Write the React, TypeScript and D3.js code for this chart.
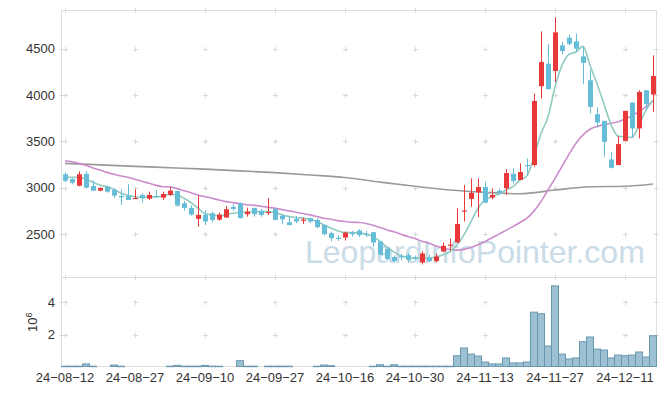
import React from 'react';
import * as d3 from 'd3';

// daily candles, 24-08-12 .. 24-12-17
const openP = [
  3144, 3093, 3021, 3150, 3018, 2968, 3011, 2975, 2911, 2911,
  2880, 2922, 2882, 2911, 2893, 2922, 2965, 2832, 2782, 2664,
  2707, 2725, 2656, 2678, 2793, 2832, 2714, 2782, 2750, 2730,
  2771, 2696, 2628, 2664, 2648, 2671, 2653, 2599, 2510, 2460,
  2463, 2516, 2538, 2504, 2520, 2420, 2341, 2252, 2262, 2273,
  2248, 2194, 2244, 2209, 2312, 2376, 2409, 2746, 2879, 2950,
  3007, 2893, 2968, 2993, 3150, 3083, 3245, 3244, 4094, 4337,
  4258, 4534, 4617, 4577, 4416, 4158, 3792, 3720, 3305, 3244,
  3505, 3918, 3639, 4050, 4004,
];
const highP = [
  3166, 3101, 3176, 3180, 3080, 3005, 3021, 2993, 2983, 3037,
  2983, 2940, 2957, 2975, 2957, 3011, 2965, 2857, 2811, 2918,
  2760, 2742, 2731, 2803, 2828, 2840, 2785, 2785, 2771, 2889,
  2782, 2717, 2689, 2696, 2678, 2678, 2671, 2599, 2527, 2488,
  2527, 2534, 2553, 2534, 2520, 2427, 2359, 2266, 2284, 2295,
  2270, 2316, 2277, 2291, 2409, 2452, 2779, 3029, 3101, 3101,
  3065, 2993, 2990, 3201, 3208, 3262, 3316, 4015, 4684, 4552,
  4838, 4570, 4652, 4660, 4523, 4273, 3864, 3720, 3387, 3556,
  3828, 3918, 4050, 4050, 4427,
];
const lowP = [
  3058, 3037, 3015, 2990, 2965, 2960, 2946, 2889, 2814, 2868,
  2879, 2843, 2868, 2896, 2868, 2911, 2796, 2753, 2699, 2581,
  2599, 2624, 2645, 2675, 2753, 2671, 2688, 2688, 2688, 2707,
  2653, 2607, 2596, 2617, 2607, 2617, 2563, 2488, 2420, 2427,
  2430, 2473, 2467, 2467, 2366, 2277, 2223, 2194, 2216, 2194,
  2220, 2172, 2198, 2194, 2305, 2323, 2402, 2635, 2796, 2683,
  2832, 2875, 2920, 2922, 3047, 3083, 3137, 3226, 3961, 4061,
  4140, 4437, 4534, 4462, 4115, 3800, 3649, 3333, 3208, 3244,
  3505, 3538, 3531, 3835, 3817,
];
const closeP = [
  3075, 3054, 3144, 3000, 2968, 2997, 2957, 2914, 2896, 2868,
  2890, 2886, 2922, 2896, 2932, 2968, 2807, 2782, 2710, 2707,
  2635, 2653, 2710, 2768, 2771, 2671, 2742, 2714, 2707, 2738,
  2653, 2660, 2596, 2635, 2656, 2635, 2574, 2499, 2456, 2452,
  2516, 2499, 2490, 2496, 2409, 2277, 2233, 2209, 2252, 2223,
  2240, 2291, 2209, 2258, 2373, 2387, 2609, 2754, 2946, 3007,
  2839, 2922, 2945, 3158, 3072, 3169, 3237, 3935, 4354, 4061,
  4674, 4473, 4552, 4498, 4344, 3871, 3703, 3495, 3215, 3470,
  3828, 3639, 4032, 3900, 4204,
];

// volume, millions of shares
const volume = [
  0.05, 0.05, 0.05, 0.19, 0.05, 0, 0, 0.12, 0.05, 0,
  0, 0, 0, 0, 0, 0.05, 0.1, 0.05, 0.05, 0.05,
  0.1, 0.05, 0.05, 0, 0, 0.39, 0.05, 0.05, 0, 0.05,
  0.05, 0.05, 0.05, 0, 0, 0, 0.05, 0.12, 0.08, 0,
  0, 0, 0, 0, 0.05, 0.14, 0.05, 0.14, 0.05, 0.05,
  0.05, 0.05, 0.05, 0.05, 0.05, 0.05, 0.7, 1.18, 0.8, 0.68,
  0.31, 0.19, 0.19, 0.56, 0.25, 0.25, 0.31, 3.4, 3.3, 1.3,
  5.03, 0.8, 0.5, 0.56, 1.57, 1.86, 1.11, 1.05, 0.56, 0.74,
  0.7, 0.74, 0.93, 0.62, 1.94,
];

// moving averages as drawn
const ma5 = [
  3118, 3111, 3111, 3090, 3058, 3029, 3011, 2983, 2940, 2918,
  2903, 2896, 2900, 2903, 2911, 2929, 2922, 2886, 2839, 2779,
  2720, 2707, 2696, 2707, 2725, 2731, 2735, 2742, 2742, 2742,
  2731, 2707, 2689, 2678, 2671, 2660, 2635, 2599, 2563, 2534,
  2516, 2516, 2515, 2499, 2473, 2420, 2359, 2305, 2266, 2248,
  2241, 2244, 2241, 2252, 2277, 2312, 2384, 2492, 2635, 2779,
  2868, 2903, 2932, 2975, 3011, 3083, 3129, 3333, 3585, 3763,
  4086, 4319, 4437, 4462, 4523, 4320, 4120, 3900, 3680, 3556,
  3548, 3542, 3674, 3835, 3943,
];
const ma20 = [
  3290, 3280, 3262, 3241, 3212, 3190, 3165, 3144, 3126, 3112,
  3090, 3069, 3047, 3025, 3011, 3008, 2990, 2968, 2946, 2922,
  2903, 2886, 2868, 2850, 2839, 2828, 2817, 2811, 2800, 2789,
  2779, 2764, 2750, 2735, 2721, 2707, 2689, 2671, 2660, 2645,
  2635, 2628, 2625, 2615, 2596, 2570, 2545, 2524, 2499, 2473,
  2452, 2423, 2402, 2373, 2348, 2333, 2327, 2335, 2355, 2385,
  2420, 2460, 2500, 2540, 2580, 2625, 2671, 2750, 2850, 2975,
  3100, 3230, 3360, 3480, 3570, 3630, 3660, 3680, 3695, 3710,
  3740, 3775, 3820, 3870, 3935,
];
const maLongIdx = [0, 5, 10, 15, 20, 25, 30, 35, 40, 45, 50, 55, 60, 65, 70, 75, 80, 84];
const maLong = [3262, 3246, 3230, 3215, 3200, 3181, 3162, 3137, 3110, 3060, 3015, 2975, 2950, 2935, 2975, 3010, 3015, 3040];

const dateTickIdx = [0, 10, 20, 30, 40, 50, 60, 70, 80];
const dateTickLabels = ['24-08-12', '24-08-27', '24-09-10', '24-09-27', '24-10-16', '24-10-30', '24-11-13', '24-11-27', '24-12-11'];
const priceTicks = [2500, 3000, 3500, 4000, 4500];
const volTicks = [2, 4];

const FONT = '"Liberation Sans", Arial, sans-serif';
const UP = '#e8383a';
const DOWN = '#65bdd8';
const FRAME = '#dedede';

const Cross = ({ x, y }) => (
  <g stroke="#d9d9d9" strokeWidth={1}>
    <line x1={x - 2.5} x2={x + 2.5} y1={y} y2={y} />
    <line x1={x} x2={x} y1={y - 2.5} y2={y + 2.5} />
  </g>
);

export default function App() {
  const n = closeP.length;
  const left = 61.5, right = 656.5;
  const pTop = 10.5, pBot = 277.5, vTop = 277.5, vBot = 367;

  const x = d3.scaleBand<number>().domain(d3.range(n)).range([left, right]).padding(0);
  const cx = (i: number) => (x(i) as number) + x.bandwidth() / 2;
  const y = d3.scaleLinear().domain([2032, 4910]).range([pBot, pTop]);
  const yv = d3.scaleLinear().domain([0, 5.55]).range([vBot, vTop]);

  const line = d3.line<number>().x((_, i) => cx(i)).y((d) => y(d)).curve(d3.curveMonotoneX);
  const longLine = d3
    .line<number>()
    .x((_, k) => cx(maLongIdx[k]))
    .y((d) => y(d))
    .curve(d3.curveMonotoneX);

  const xTicksPx = dateTickIdx.map((i) => Math.round(cx(i)) + 0.5);

  return (
    <svg width={665} height={396} style={{ position: 'fixed', left: 0, top: 0, background: '#fff' }} fontFamily={FONT}>
      <rect x={0} y={0} width={665} height={396} fill="#fff" />

      {/* frames */}
      <g stroke={FRAME} strokeWidth={1} fill="none">
        <line x1={left} x2={right} y1={pTop} y2={pTop} />
        <line x1={left} x2={right} y1={pBot} y2={pBot} />
        <line x1={left} x2={right} y1={vBot - 0.5} y2={vBot - 0.5} />
        <line x1={left} x2={left} y1={pTop} y2={vBot} />
        <line x1={right} x2={right} y1={pTop} y2={vBot} />
      </g>

      {/* grid crosses */}
      {xTicksPx.map((gx) =>
        [...priceTicks.map((t) => Math.round(y(t)) + 0.5), pTop, pBot].map((gy, k) => (
          <Cross key={`p${gx}-${k}`} x={gx} y={gy} />
        ))
      )}
      {xTicksPx.map((gx) =>
        volTicks.map((t) => Math.round(yv(t)) + 0.5).map((gy, k) => <Cross key={`v${gx}-${k}`} x={gx} y={gy} />)
      )}
      {[left, right].map((gx) =>
        [...priceTicks.map((t) => Math.round(y(t)) + 0.5), ...volTicks.map((t) => Math.round(yv(t)) + 0.5)].map((gy, k) => (
          <Cross key={`b${gx}-${k}`} x={gx} y={gy} />
        ))
      )}

      {/* watermark */}
      <text x={305} y={263} fontSize={32} fill="#c9dce8" fontFamily={FONT}>
        LeopardInfoPointer.com
      </text>

      {/* moving averages */}
      <path d={longLine(maLong) || ''} fill="none" stroke="#9a9a9a" strokeWidth={1.6} />
      <path d={line(ma20) || ''} fill="none" stroke="#cc8ccc" strokeWidth={1.6} />
      <path d={line(ma5) || ''} fill="none" stroke="#90cbc2" strokeWidth={1.6} />

      {/* candles */}
      {closeP.map((c, i) => {
        const o = openP[i];
        const col = c >= o ? UP : DOWN;
        const bx = Math.floor(cx(i) - 2);
        const yTop = y(Math.max(o, c));
        const yB = y(Math.min(o, c));
        const h = Math.max(1.2, yB - yTop);
        return (
          <g key={`c${i}`}>
            <line x1={bx + 2.5} x2={bx + 2.5} y1={y(highP[i])} y2={y(lowP[i])} stroke={col} strokeWidth={1} />
            <rect x={bx} y={yTop} width={5} height={h} fill={col} />
          </g>
        );
      })}

      {/* volume */}
      {volume.map((v, i) =>
        v > 0 ? (
          <rect
            key={`v${i}`}
            x={x(i)}
            y={yv(v)}
            width={x.bandwidth()}
            height={Math.max(0.5, vBot - 0.5 - yv(v))}
            fill="#9cc1d2"
            stroke="#6a97b0"
            strokeWidth={1}
          />
        ) : null
      )}

      {/* axis labels */}
      {priceTicks.map((t) => (
        <text key={`pt${t}`} x={55} y={y(t)} dy="0.36em" textAnchor="end" fontSize={13} fill="#333">
          {t}
        </text>
      ))}
      {volTicks.map((t) => (
        <text key={`vt${t}`} x={55} y={yv(t)} dy="0.36em" textAnchor="end" fontSize={13} fill="#333">
          {t}
        </text>
      ))}
      <text transform="translate(37,332) rotate(-90)" fontSize={13} fill="#333">
        10
        <tspan fontSize={9} dy={-5}>
          6
        </tspan>
      </text>
      {dateTickIdx.map((i, k) => (
        <text key={`d${i}`} x={cx(i)} y={382} textAnchor="middle" fontSize={13} fill="#333">
          {dateTickLabels[k].replace(/-/g, '\u2212')}
        </text>
      ))}
    </svg>
  );
}
